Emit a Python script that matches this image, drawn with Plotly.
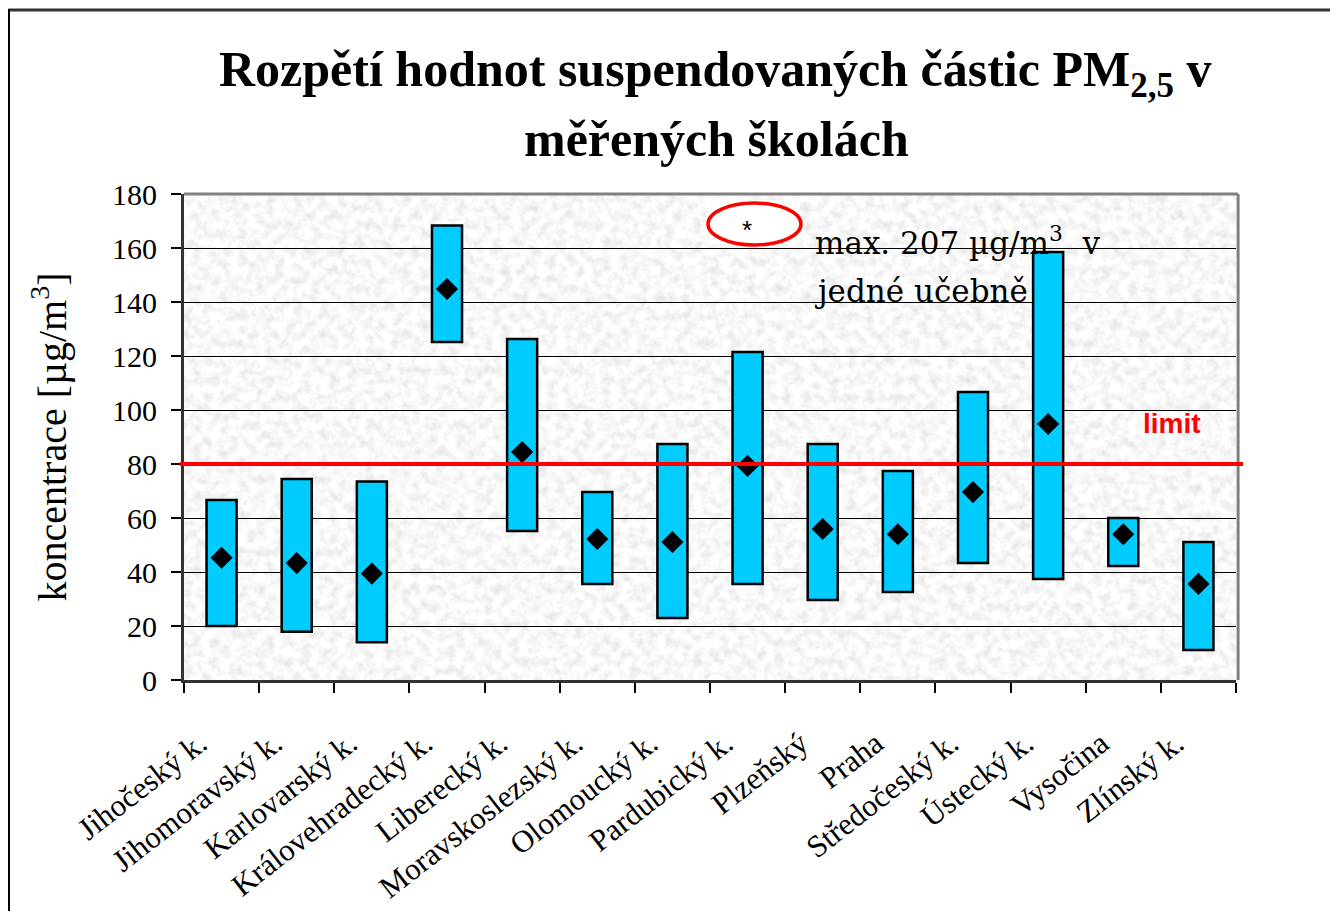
import base64
import plotly.graph_objects as go

categories = ["Jihočeský k.", "Jihomoravský k.", "Karlovarský k.", "Královehradecký k.",
              "Liberecký k.", "Moravskoslezský k.", "Olomoucký k.", "Pardubický k.",
              "Plzeňský", "Praha", "Středočeský k.", "Ústecký k.", "Vysočina", "Zlínský k."]
min_values = [20.0, 17.9, 14.0, 125.2, 55.2, 35.6, 23.0, 35.6, 29.6, 32.6, 43.3, 37.4, 42.2, 11.1]
max_values = [66.7, 74.4, 73.5, 168.3, 126.3, 69.6, 87.4, 121.5, 87.4, 77.4, 106.7, 158.5, 60.0, 51.1]
mean_values = [45.3, 43.3, 39.4, 144.8, 84.4, 52.2, 51.1, 79.3, 55.9, 54.0, 69.6, 94.8, 54.0, 35.6]
limit_value = 80
y_ticks = [0, 20, 40, 60, 80, 100, 120, 140, 160, 180]

# page has an 8px body margin; plot area in page pixels:
OFF = 8
L, R, T, B = 184, 1236, 194, 680
W, H = 1338 - OFF, 911 - OFF


def px(x):
    return (x - L) / (R - L)


def py(y):
    return (B - y) / (B - T)


serif = "Liberation Serif, Times New Roman, serif"

# granite-like texture for the plot background
svg = ("<svg xmlns='http://www.w3.org/2000/svg' width='1052' height='486'>"
       "<filter id='n'><feTurbulence type='fractalNoise' baseFrequency='0.11' numOctaves='3' seed='7'/>"
       "<feColorMatrix type='matrix' values='0.42 0 0 0 0.73  0.42 0 0 0 0.73  0.42 0 0 0 0.73  0 0 0 0 1'/>"
       "</filter><rect width='100%' height='100%' filter='url(#n)'/></svg>")
texture = "data:image/svg+xml;base64," + base64.b64encode(svg.encode()).decode()

fig = go.Figure()
fig.add_trace(go.Bar(
    x=categories,
    y=[mx - mn for mx, mn in zip(max_values, min_values)],
    base=min_values,
    width=0.4,
    marker=dict(color="#00CCFF", line=dict(color="black", width=2.5)),
    showlegend=False,
))
fig.add_trace(go.Scatter(
    x=categories, y=mean_values, mode="markers",
    marker=dict(symbol="diamond", size=17, color="black"),
    showlegend=False,
))

shapes = [
    # page frame
    dict(type="line", xref="paper", yref="paper", x0=px(8.5), x1=px(1338), y0=py(10), y1=py(10),
         line=dict(color="#333333", width=3)),
    dict(type="line", xref="paper", yref="paper", x0=px(9), x1=px(9), y0=py(911), y1=py(9),
         line=dict(color="black", width=2)),
    # plot frame top/right
    dict(type="line", xref="paper", yref="paper", x0=0, x1=1.002, y0=1, y1=1,
         line=dict(color="#808080", width=3)),
    dict(type="line", xref="paper", yref="paper", x0=1.002, x1=1.002, y0=0, y1=1,
         line=dict(color="#808080", width=3)),
    # limit line
    dict(type="line", xref="paper", yref="y", x0=px(180), x1=px(1243), y0=limit_value, y1=limit_value,
         line=dict(color="#FF0000", width=4)),
    # red ellipse note
    dict(type="rect", xref="paper", yref="paper", x0=px(706), x1=px(800), y0=py(244), y1=py(200),
         fillcolor="white", line=dict(width=0)),
    dict(type="circle", xref="paper", yref="paper", x0=px(708), x1=px(801), y0=py(245), y1=py(203),
         line=dict(color="#FF0000", width=3.5)),
]

annotations = [
    dict(text="<b>Rozpětí hodnot suspendovaných částic PM<sub>2,5</sub> v</b>",
         xref="paper", yref="paper", x=px(715), y=py(73), showarrow=False,
         font=dict(family=serif, size=50, color="black"), xanchor="center", yanchor="middle"),
    dict(text="<b>měřených školách</b>",
         xref="paper", yref="paper", x=px(716), y=py(139), showarrow=False,
         font=dict(family=serif, size=50, color="black"), xanchor="center", yanchor="middle"),
    dict(text="*", xref="paper", yref="paper", x=px(747), y=py(230), showarrow=False,
         font=dict(family="Liberation Sans, Arial", size=26, color="black"), xanchor="center", yanchor="middle"),
    dict(text="max. 207 µg/m<sup>3</sup>  v", xref="paper", yref="paper", x=px(813), y=py(241),
         showarrow=False, font=dict(family="DejaVu Serif, serif", size=31, color="black"),
         xanchor="left", yanchor="middle"),
    dict(text="jedné učebně", xref="paper", yref="paper", x=px(813), y=py(291),
         showarrow=False, font=dict(family="DejaVu Serif, serif", size=31, color="black"),
         xanchor="left", yanchor="middle"),
    dict(text="<b>limit</b>", xref="paper", yref="paper", x=px(1172), y=py(423),
         showarrow=False, font=dict(family="Liberation Sans, Arial", size=28, color="#FF0000"),
         xanchor="center", yanchor="middle"),
]

fig.update_layout(
    width=W, height=H,
    margin=dict(l=L - OFF, r=W - (R - OFF), t=T - OFF, b=H - (B - OFF), pad=0, autoexpand=False),
    paper_bgcolor="white",
    plot_bgcolor="#ececec",
    shapes=shapes,
    annotations=annotations,
    images=[dict(source=texture, xref="paper", yref="paper", x=0, y=1, sizex=1, sizey=1,
                 sizing="stretch", xanchor="left", yanchor="top", layer="below")],
)
fig.update_xaxes(
    type="category", range=[-0.5, 13.5], automargin=False,
    tickson="boundaries", ticks="outside", ticklen=10, tickcolor="black", tickwidth=1.5,
    showline=True, linecolor="#333333", linewidth=3,
    showgrid=False, tickangle=-38, ticklabelstandoff=30, ticklabelshift=-22,
    tickfont=dict(family=serif, size=31, color="black"),
)
fig.update_yaxes(
    range=[0, 180], tickvals=y_ticks, ticks="outside", ticklen=10, tickcolor="black", tickwidth=1.5,
    showline=True, linecolor="#333333", linewidth=3, ticklabelstandoff=8, automargin=False,
    showgrid=True, gridcolor="black", gridwidth=1, zeroline=False,
    tickfont=dict(family=serif, size=30, color="black"),
    title=dict(text="koncentrace [µg/m<sup>3</sup>]", font=dict(family=serif, size=40, color="black"),
               standoff=34),
)

fig.write_html("out.html")
